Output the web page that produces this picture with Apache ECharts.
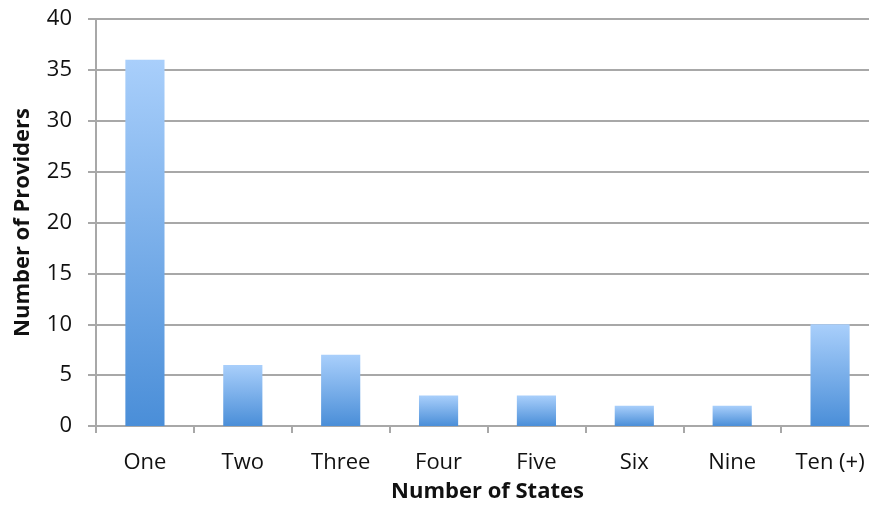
<!DOCTYPE html>
<html>
<head>
<meta charset="utf-8">
<script src="https://cdn.jsdelivr.net/npm/echarts@6/dist/echarts.min.js"></script>
<style>html,body{margin:0;padding:0;background:#fff;overflow:hidden;width:869px;height:511px;}#c{width:879px;height:511px;}</style>
</head>
<body>
<div id="c"></div>
<script>
const categories = ['One', 'Two', 'Three', 'Four', 'Five', 'Six', 'Nine', 'Ten (+)'];
const providers = [36, 6, 7, 3, 3, 2, 2, 10];
const xTitle = 'Number of States';
const yTitle = 'Number of Providers';

const font = '"Open Sans", sans-serif';
const chart = echarts.init(document.getElementById('c'), null, {renderer: 'canvas'});
chart.setOption({
  animation: false,
  backgroundColor: '#fff',
  grid: {left: 96, right: 0, top: 19, bottom: 85, containLabel: false},
  xAxis: {
    type: 'category',
    data: categories,
    name: xTitle,
    nameLocation: 'middle',
    nameGap: 55,
    nameTextStyle: {fontFamily: font, fontWeight: 'bold', fontSize: 22, color: '#111'},
    axisLine: {lineStyle: {color: '#a8a8a8', width: 2}},
    axisTick: {show: true, length: 7, lineStyle: {color: '#a8a8a8', width: 2}},
    axisLabel: {fontFamily: font, fontSize: 22, color: '#111', margin: 26}
  },
  yAxis: {
    type: 'value',
    min: 0, max: 40, interval: 5,
    name: yTitle,
    nameLocation: 'middle',
    nameGap: 62,
    nameRotate: 90,
    nameTextStyle: {fontFamily: font, fontWeight: 'bold', fontSize: 22, color: '#111'},
    axisLine: {show: true, lineStyle: {color: '#a8a8a8', width: 2}},
    axisTick: {show: true, length: 8, lineStyle: {color: '#a8a8a8', width: 2}},
    axisLabel: {fontFamily: font, fontSize: 22, color: '#111', margin: 24},
    splitLine: {lineStyle: {color: '#a8a8a8', width: 2}}
  },
  series: [{
    type: 'bar',
    data: providers,
    barWidth: '40%',
    itemStyle: {
      color: new echarts.graphic.LinearGradient(0, 0, 0, 1, [
        {offset: 0, color: '#a9cffb'},
        {offset: 1, color: '#4a8ed8'}
      ])
    }
  }]
});
</script>
</body>
</html>
